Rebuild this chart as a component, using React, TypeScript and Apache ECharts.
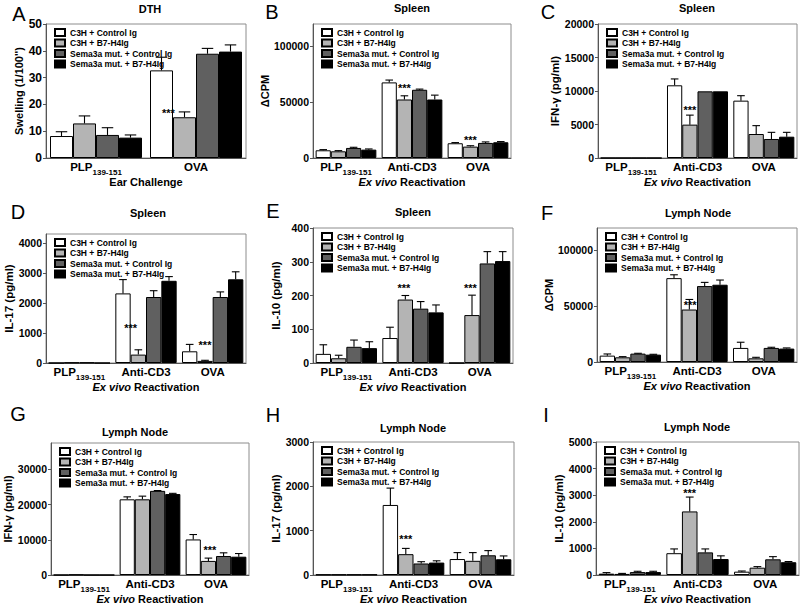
import React, { useEffect, useRef } from 'react';
import * as echarts from 'echarts';

const FONT = 'Arial, "Liberation Sans", Helvetica, sans-serif';

const SERIES_NAMES = ['C3H + Control Ig', 'C3H + B7-H4Ig', 'Sema3a mut. + Control Ig', 'Sema3a mut. + B7-H4Ig'];
const BAR_COLORS = ['#ffffff', '#b4b4b4', '#606060', '#000000'];

const CAT_DTH = ['PLP', 'OVA'];
const CAT_EXVIVO = ['PLP', 'Anti-CD3', 'OVA'];

// A — DTH
const dthMean = [[8.2, 32.7], [12.9, 15.2], [8.6, 38.9], [7.6, 39.7]];
const dthSem = [[1.6, 4.9], [2.8, 2.0], [2.7, 2.0], [1.0, 2.5]];
const dthStars = [[1, 0.8, 17.9]];
const dthTicks = [0, 10, 20, 30, 40, 50];

// B — Spleen ΔCPM
const spCpmMean = [[6900, 67700, 13200], [6000, 52400, 10200], [9000, 61100, 13500], [7500, 52400, 14100]];
const spCpmSem = [[600, 2100, 600], [600, 3300, 800], [600, 600, 900], [600, 3900, 600]];
const spCpmStars = [[1, 1.5, 65600], [2, 1.5, 19200]];
const spCpmTicks = [0, 50000, 100000];

// C — Spleen IFN-γ
const spIfnMean = [[0, 10850, 8560], [0, 4980, 3580], [0, 9950, 2840], [0, 9950, 3180]];
const spIfnSem = [[0, 950, 740], [0, 1420, 1250], [0, 0, 990], [0, 0, 650]];
const spIfnStars = [[1, 1.5, 7660]];
const spIfnTicks = [0, 5000, 10000, 15000, 20000];

// D — Spleen IL-17
const spIl17Mean = [[0, 2320, 390], [15, 280, 70], [15, 2200, 2200], [0, 2740, 2790]];
const spIl17Sem = [[0, 460, 230], [0, 160, 20], [0, 210, 170], [0, 140, 250]];
const spIl17Stars = [[1, 1.0, 1270], [2, 1.5, 710]];
const spIl17Ticks = [0, 1000, 2000, 3000, 4000];

// E — Spleen IL-10
const spIl10Mean = [[27, 74, 0], [14, 188, 142], [48, 161, 295], [44, 150, 302]];
const spIl10Sem = [[27, 32, 0], [9, 12, 59], [20, 21, 35], [19, 22, 28]];
const spIl10Stars = [[1, 1.4, 231], [2, 1.4, 231]];
const spIl10Ticks = [0, 100, 200, 300, 400];

// F — Lymph Node ΔCPM
const lnCpmMean = [[5700, 75100, 12600], [4200, 47000, 3300], [7500, 68000, 12600], [6600, 69200, 12000]];
const lnCpmSem = [[1500, 3000, 5100], [600, 9000, 900], [300, 3300, 600], [300, 4200, 600]];
const lnCpmStars = [[1, 1.55, 53300]];
const lnCpmTicks = [0, 50000, 100000];

// G — Lymph Node IFN-γ
const lnIfnMean = [[0, 21500, 10100], [100, 21500, 4000], [0, 23900, 5400], [0, 23000, 5200]];
const lnIfnSem = [[0, 700, 1400], [0, 900, 800], [0, 100, 900], [0, 200, 900]];
const lnIfnStars = [[2, 1.6, 8000]];
const lnIfnTicks = [0, 10000, 20000, 30000];

// H — Lymph Node IL-17
const lnIl17Mean = [[10, 1580, 360], [10, 470, 320], [10, 260, 445], [10, 280, 355]];
const lnIl17Sem = [[0, 380, 145], [0, 130, 185], [0, 40, 105], [0, 40, 75]];
const lnIl17Stars = [[1, 1.5, 870]];
const lnIl17Ticks = [0, 1000, 2000, 3000];

// I — Lymph Node IL-10
const lnIl10Mean = [[50, 820, 125], [40, 2390, 275], [110, 850, 590], [110, 600, 480]];
const lnIl10Sem = [[40, 160, 25], [20, 540, 40], [30, 130, 100], [30, 120, 25]];
const lnIl10Stars = [[1, 1.5, 3200]];
const lnIl10Ticks = [0, 1000, 2000, 3000, 4000, 5000];

const EXVIVO_NAME = '{i|Ex vivo }{n|Reactivation}';

const PANELS = [
  { letter: 'A', title: 'DTH', yName: "Swelling (1/100'')", xName: '{n|Ear Challenge}', cats: CAT_DTH, mean: dthMean, sem: dthSem, stars: dthStars, ticks: dthTicks, max: 50,
    grid: { left: 46, top: 24, width: 200, height: 134 }, letterPos: [19, 14], titlePos: [150, 9], yGap: 17, yNameSize: 11, tickSize: 12 },
  { letter: 'B', title: 'Spleen', yName: 'ΔCPM', xName: EXVIVO_NAME, cats: CAT_EXVIVO, mean: spCpmMean, sem: spCpmSem, stars: spCpmStars, ticks: spCpmTicks, max: 120000,
    grid: { left: 313, top: 24, width: 198, height: 134 }, letterPos: [272, 12], titlePos: [412, 8], yGap: 22, yNameSize: 11, tickSize: 10.5 },
  { letter: 'C', title: 'Spleen', yName: 'IFN-γ (pg/ml)', xName: EXVIVO_NAME, cats: CAT_EXVIVO, mean: spIfnMean, sem: spIfnSem, stars: spIfnStars, ticks: spIfnTicks, max: 20000,
    grid: { left: 598, top: 24, width: 199, height: 134 }, letterPos: [548, 12], titlePos: [697, 8], yGap: 34, yNameSize: 11.5, tickSize: 10.5 },
  { letter: 'D', title: 'Spleen', yName: 'IL-17 (pg/ml)', xName: EXVIVO_NAME, cats: CAT_EXVIVO, mean: spIl17Mean, sem: spIl17Sem, stars: spIl17Stars, ticks: spIl17Ticks, max: 4300,
    grid: { left: 46, top: 234, width: 200, height: 129 }, letterPos: [18, 212], titlePos: [148, 213], yGap: 29, yNameSize: 11.5, tickSize: 10.5 },
  { letter: 'E', title: 'Spleen', yName: 'IL-10 (pg/ml)', xName: EXVIVO_NAME, cats: CAT_EXVIVO, mean: spIl10Mean, sem: spIl10Sem, stars: spIl10Stars, ticks: spIl10Ticks, max: 400,
    grid: { left: 313, top: 228, width: 200, height: 135 }, letterPos: [273, 211], titlePos: [413, 212], yGap: 31, yNameSize: 11.5, tickSize: 10.5 },
  { letter: 'F', title: 'Lymph Node', yName: 'ΔCPM', xName: EXVIVO_NAME, cats: CAT_EXVIVO, mean: lnCpmMean, sem: lnCpmSem, stars: lnCpmStars, ticks: lnCpmTicks, max: 120000,
    grid: { left: 597, top: 228, width: 200, height: 134 }, letterPos: [547, 213], titlePos: [698, 213], yGap: 33, yNameSize: 11, tickSize: 10.5 },
  { letter: 'G', title: 'Lymph Node', yName: 'IFN-γ (pg/ml)', xName: EXVIVO_NAME, cats: CAT_EXVIVO, mean: lnIfnMean, sem: lnIfnSem, stars: lnIfnStars, ticks: lnIfnTicks, max: 37500,
    grid: { left: 51, top: 443, width: 198, height: 132 }, letterPos: [18, 414], titlePos: [135, 432], yGap: 36, yNameSize: 11, tickSize: 10.5 },
  { letter: 'H', title: 'Lymph Node', yName: 'IL-17 (pg/ml)', xName: EXVIVO_NAME, cats: CAT_EXVIVO, mean: lnIl17Mean, sem: lnIl17Sem, stars: lnIl17Stars, ticks: lnIl17Ticks, max: 3000,
    grid: { left: 313, top: 442, width: 201, height: 133 }, letterPos: [273, 415], titlePos: [413, 428], yGap: 31, yNameSize: 11.5, tickSize: 10.5 },
  { letter: 'I', title: 'Lymph Node', yName: 'IL-10 (pg/ml)', xName: EXVIVO_NAME, cats: CAT_EXVIVO, mean: lnIl10Mean, sem: lnIl10Sem, stars: lnIl10Stars, ticks: lnIl10Ticks, max: 5000,
    grid: { left: 596, top: 442, width: 203, height: 133 }, letterPos: [546, 415], titlePos: [697, 427], yGap: 27, yNameSize: 11.5, tickSize: 10.5 },
];

const GAP = 0.08;

function barX(api: any, cat: number, pos: number) {
  const c = api.coord([cat, 0]);
  const band = api.size([1, 0])[0];
  const groupW = band * (1 - GAP);
  const barW = groupW / 4;
  return { x: c[0] - groupW / 2 + pos * barW, barW };
}

function errRender(params: any, api: any) {
  const cat = api.value(0);
  const k = api.value(1);
  const mean = api.value(2);
  const top = api.value(3);
  if (!(top > mean)) return { type: 'group', children: [] };
  const { x, barW } = barX(api, cat, k + 0.5);
  const y0 = api.coord([cat, mean])[1];
  const y1 = api.coord([cat, top])[1];
  const cap = barW * 0.5;
  const st = { stroke: '#000', lineWidth: 1.1 };
  return {
    type: 'group',
    children: [
      { type: 'line', shape: { x1: x, y1: y0, x2: x, y2: y1 }, style: st },
      { type: 'line', shape: { x1: x - cap / 2, y1: y1, x2: x + cap / 2, y2: y1 }, style: st },
    ],
  };
}

function starRender(params: any, api: any) {
  const cat = api.value(0);
  const pos = api.value(1);
  const v = api.value(2);
  const { x } = barX(api, cat, pos);
  const y = api.coord([cat, v])[1];
  return {
    type: 'text',
    x,
    y: y + 3,
    style: { text: '***', fill: '#000', fontSize: 11, fontWeight: 'bold', fontFamily: FONT, align: 'center', verticalAlign: 'middle' },
  };
}

export default function App() {
  const ref = useRef<HTMLDivElement>(null);
  useEffect(() => {
    if (!ref.current) return;
    const chart = echarts.init(ref.current, null, { renderer: 'svg' });

    const grid: any[] = [];
    const xAxis: any[] = [];
    const yAxis: any[] = [];
    const legend: any[] = [];
    const series: any[] = [];
    const graphic: any[] = [];

    PANELS.forEach((p, pi) => {
      grid.push({ ...p.grid, show: true, borderColor: '#8c8c8c', borderWidth: 1, backgroundColor: 'transparent', containLabel: false, outerBoundsMode: 'none' });
      xAxis.push({
        type: 'category',
        gridIndex: pi,
        data: p.cats,
        axisLine: { show: true, lineStyle: { color: '#555', width: 1 } },
        axisTick: { show: false },
        axisLabel: {
          interval: 0,
          hideOverlap: false,
          margin: 0,
          formatter: (v: string) => (v === 'PLP' ? '{m|PLP}{s|139-151}' : '{m|' + v + '}'),
          rich: {
            m: { fontSize: 11.5, fontWeight: 'bold', fontFamily: FONT, color: '#000', lineHeight: 18 },
            s: { fontSize: 8, fontWeight: 'bold', fontFamily: FONT, color: '#000', lineHeight: 8, padding: [10, 0, 0, 0], verticalAlign: 'bottom' },
          },
        },
        name: p.xName,
        nameLocation: 'middle',
        nameGap: 16,
        nameTextStyle: {
          rich: {
            i: { fontSize: 11, fontWeight: 'bold', fontStyle: 'italic', fontFamily: FONT, color: '#000' },
            n: { fontSize: 11, fontWeight: 'bold', fontFamily: FONT, color: '#000' },
          },
        },
      });
      yAxis.push({
        type: 'value',
        gridIndex: pi,
        min: 0,
        max: p.max,
        splitLine: { show: false },
        axisLine: { show: true, lineStyle: { color: '#555', width: 1 } },
        axisTick: { show: true, length: 3, lineStyle: { color: '#555' }, customValues: p.ticks },
        axisLabel: {
          margin: 4,
          fontSize: p.tickSize,
          fontWeight: 'bold',
          fontFamily: FONT,
          color: '#000',
          customValues: p.ticks,
          formatter: (v: number) => String(v),
        },
        name: p.yName,
        nameLocation: 'middle',
        nameGap: p.yGap,
        nameTextStyle: { fontSize: p.yNameSize, fontWeight: 'bold', fontFamily: FONT, color: '#000' },
      });
      legend.push({
        orient: 'vertical',
        left: p.grid.left + 8,
        top: p.grid.top + 4,
        icon: 'rect',
        itemWidth: 10,
        itemHeight: 7,
        itemGap: 1.5,
        padding: 0,
        selectedMode: false,
        textStyle: { fontSize: 8.5, fontWeight: 'bold', fontFamily: FONT, color: '#000' },
        data: SERIES_NAMES,
      });
      p.mean.forEach((vals, k) => {
        series.push({
          type: 'bar',
          name: SERIES_NAMES[k],
          xAxisIndex: pi,
          yAxisIndex: pi,
          data: vals,
          barGap: '0%',
          barCategoryGap: GAP * 100 + '%',
          silent: true,
          itemStyle: { color: BAR_COLORS[k], borderColor: '#000', borderWidth: 1 },
        });
      });
      const errData: number[][] = [];
      p.mean.forEach((vals, k) => {
        vals.forEach((m, c) => {
          errData.push([c, k, m, m + p.sem[k][c]]);
        });
      });
      series.push({
        type: 'custom',
        xAxisIndex: pi,
        yAxisIndex: pi,
        data: errData,
        encode: { x: 0, y: 3 },
        renderItem: errRender,
        silent: true,
        z: 3,
      });
      series.push({
        type: 'custom',
        xAxisIndex: pi,
        yAxisIndex: pi,
        data: p.stars,
        encode: { x: 0, y: 2 },
        renderItem: starRender,
        silent: true,
        z: 4,
      });
      graphic.push({
        type: 'text',
        x: p.letterPos[0],
        y: p.letterPos[1],
        style: { text: p.letter, fontSize: 20, fontFamily: FONT, fill: '#000', align: 'center', verticalAlign: 'middle' },
      });
      graphic.push({
        type: 'text',
        x: p.titlePos[0],
        y: p.titlePos[1],
        style: { text: p.title, fontSize: 11, fontWeight: 'bold', fontFamily: FONT, fill: '#000', align: 'center', verticalAlign: 'middle' },
      });
    });

    chart.setOption({
      animation: false,
      backgroundColor: '#ffffff',
      textStyle: { fontFamily: FONT },
      grid,
      xAxis,
      yAxis,
      legend,
      series,
      graphic,
    });
    return () => chart.dispose();
  }, []);
  return <div ref={ref} style={{ position: 'absolute', left: 0, top: 0, width: 800, height: 605 }} />;
}
